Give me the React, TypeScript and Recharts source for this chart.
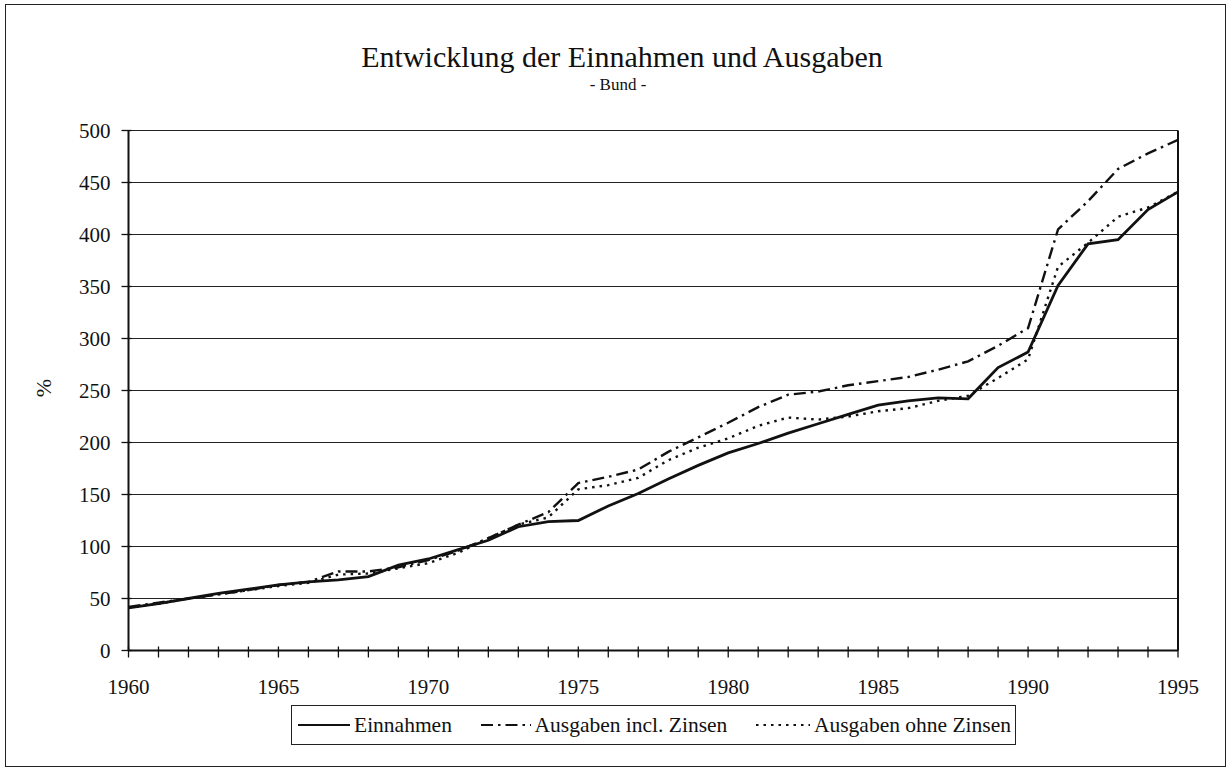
import React from "react";
import { LineChart, Line, XAxis, YAxis, CartesianGrid, ReferenceLine } from "recharts";

const years = [
  1960, 1961, 1962, 1963, 1964, 1965, 1966, 1967, 1968, 1969,
  1970, 1971, 1972, 1973, 1974, 1975, 1976, 1977, 1978, 1979,
  1980, 1981, 1982, 1983, 1984, 1985, 1986, 1987, 1988, 1989,
  1990, 1991, 1992, 1993, 1994, 1995,
];

const einnahmen = [
  41, 45, 50, 55, 59, 63, 66, 68, 71, 82,
  88, 97, 106, 119, 124, 125, 139, 151, 165, 178,
  190, 199, 209, 218, 227, 236, 240, 243, 242, 272,
  287, 351, 391, 395, 424, 441,
];

const ausgabenInclZinsen = [
  42, 46, 50, 54, 58, 63, 66, 76, 76, 80,
  87, 96, 108, 121, 133, 161, 167, 174, 191, 205,
  219, 234, 246, 249, 255, 259, 263, 270, 278, 293,
  310, 405, 432, 463, 478, 491,
];

const ausgabenOhneZinsen = [
  41, 45, 50, 54, 58, 62, 65, 73, 74, 79,
  84, 94, 108, 121, 128, 155, 159, 166, 183, 195,
  204, 216, 224, 222, 225, 230, 233, 240, 245, 262,
  280, 369, 392, 417, 426, 441,
];

const yTicks = [0, 50, 100, 150, 200, 250, 300, 350, 400, 450, 500];

const data = years.map((year, i) => ({
  year,
  einnahmen: einnahmen[i],
  inkl: ausgabenInclZinsen[i],
  ohne: ausgabenOhneZinsen[i],
}));

const FONT = "'Liberation Serif', 'Times New Roman', serif";
const INK = "#111";

const DASH_DOT = "12 5 2.5 5";
const DOTTED = "2.5 5";

function XTick(props: any) {
  const { x, y, payload } = props;
  const v = payload.value;
  return (
    <g>
      <line x1={x} x2={x} y1={y - 4} y2={y + 7} stroke={INK} strokeWidth={1.3} />
      {v % 5 === 0 ? (
        <text x={x} y={y + 43} textAnchor="middle" fontFamily={FONT} fontSize={21} fill={INK}>
          {v}
        </text>
      ) : null}
    </g>
  );
}

function YTick(props: any) {
  const { x, y, payload } = props;
  return (
    <g>
      <line x1={x - 7} x2={x + 3} y1={y} y2={y} stroke={INK} strokeWidth={1.3} />
      <text x={x - 18} y={y + 7.5} textAnchor="end" fontFamily={FONT} fontSize={21} fill={INK}>
        {payload.value}
      </text>
    </g>
  );
}

function LegendItem({ dash, label, width }: { dash?: string; label: string; width: number }) {
  return (
    <span style={{ display: "inline-flex", alignItems: "center" }}>
      <svg width={width} height={10} style={{ marginRight: 4 }}>
        <line x1={0} x2={width} y1={5} y2={5} stroke={INK} strokeWidth={2.2} strokeDasharray={dash} />
      </svg>
      {label}
    </span>
  );
}

export default function App() {
  return (
    <div
      style={{
        position: "absolute",
        left: 0,
        top: 0,
        width: 1229,
        height: 768,
        background: "#fff",
        fontFamily: FONT,
        color: INK,
        overflow: "hidden",
      }}
    >
      <div
        style={{
          position: "absolute",
          left: 5,
          top: 4,
          width: 1219,
          height: 761,
          border: "1.5px solid #222",
        }}
      />
      <div
        style={{
          position: "absolute",
          left: 0,
          width: 1244,
          top: 40,
          textAlign: "center",
          fontSize: 30,
          lineHeight: "34px",
        }}
      >
        Entwicklung der Einnahmen und Ausgaben
      </div>
      <div
        style={{
          position: "absolute",
          left: 0,
          width: 1236,
          top: 76,
          textAlign: "center",
          fontSize: 17,
          lineHeight: "18px",
        }}
      >
        - Bund -
      </div>
      <div
        style={{
          position: "absolute",
          left: 32,
          top: 376,
          width: 24,
          height: 24,
          fontSize: 22,
          lineHeight: "24px",
          textAlign: "center",
          transform: "rotate(-90deg)",
        }}
      >
        %
      </div>

      <div style={{ position: "absolute", left: 0, top: 0 }}>
        <LineChart
          width={1229}
          height={768}
          data={data}
          margin={{ top: 130.5, right: 51, left: 48.5, bottom: 67.5 }}
        >
          <CartesianGrid vertical={false} stroke="#222" strokeWidth={1.2} />
          <XAxis
            dataKey="year"
            type="number"
            domain={[1960, 1995]}
            ticks={years}
            interval={0}
            height={50}
            tickSize={0}
            tickMargin={0}
            tick={<XTick />}
            axisLine={{ stroke: INK, strokeWidth: 2 }}
          />
          <YAxis
            domain={[0, 500]}
            ticks={yTicks}
            interval={0}
            width={80}
            tickSize={0}
            tickMargin={0}
            tick={<YTick />}
            axisLine={{ stroke: INK, strokeWidth: 2 }}
          />
          <ReferenceLine x={1995} stroke={INK} strokeWidth={2} />
          <Line
            dataKey="ohne"
            stroke={INK}
            strokeWidth={2.4}
            strokeDasharray={DOTTED}
            dot={false}
            isAnimationActive={false}
          />
          <Line
            dataKey="inkl"
            stroke={INK}
            strokeWidth={2.4}
            strokeDasharray={DASH_DOT}
            dot={false}
            isAnimationActive={false}
          />
          <Line
            dataKey="einnahmen"
            stroke={INK}
            strokeWidth={2.8}
            dot={false}
            isAnimationActive={false}
          />
        </LineChart>
      </div>

      <div
        style={{
          position: "absolute",
          left: 291,
          top: 705,
          width: 725,
          height: 40,
          boxSizing: "border-box",
          border: "1.5px solid #222",
          display: "flex",
          alignItems: "center",
          justifyContent: "space-between",
          padding: "0 4px 0 6px",
          fontSize: 21.5,
          whiteSpace: "nowrap",
        }}
      >
        <LegendItem label="Einnahmen" width={52} />
        <LegendItem label="Ausgaben incl. Zinsen" dash={DASH_DOT} width={50} />
        <LegendItem label="Ausgaben ohne Zinsen" dash={DOTTED} width={54} />
      </div>
    </div>
  );
}
